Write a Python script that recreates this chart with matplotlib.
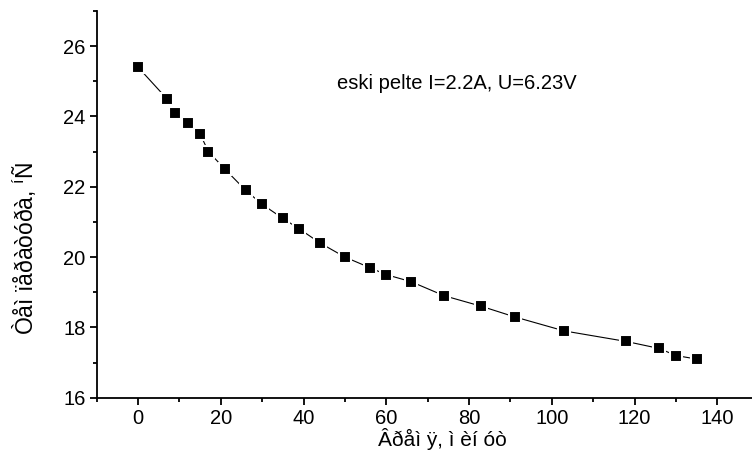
import matplotlib
matplotlib.use("Agg")
import matplotlib.pyplot as plt
from matplotlib.ticker import MultipleLocator

time_min = [0, 7, 9, 12, 15, 17, 21, 26, 30, 35, 39, 44, 50, 56, 60, 66,
            74, 83, 91, 103, 118, 126, 130, 135]
temperature = [25.4, 24.5, 24.1, 23.8, 23.5, 23.0, 22.5, 21.9, 21.5, 21.1,
               20.8, 20.4, 20.0, 19.7, 19.5, 19.3, 18.9, 18.6, 18.3, 17.9,
               17.6, 17.4, 17.2, 17.1]

x_label = "Âðåì ÿ, ì èí óò"
y_label = r"Òåì ïåðàòóðà, $^{\rm í}$Ñ"
note = "eski pelte I=2.2A, U=6.23V"

plt.rcParams['font.family'] = ['Liberation Sans', 'DejaVu Sans']
plt.rcParams['mathtext.fontset'] = 'custom'
plt.rcParams['mathtext.rm'] = 'Liberation Sans'

fig = plt.figure(figsize=(7.52, 4.5), dpi=100)
ax = fig.add_axes([0.1286, 0.1162, 0.8714, 0.8594])

ax.plot(time_min, temperature, color='black', linewidth=0.8, zorder=2)
ax.plot(time_min, temperature, linestyle='none', marker='s', markersize=8.5,
        markerfacecolor='black', markeredgecolor='white', markeredgewidth=1.5,
        zorder=3)

ax.set_xlim(-10, 148.4)
ax.set_ylim(16, 27)
ax.xaxis.set_major_locator(MultipleLocator(20))
ax.xaxis.set_minor_locator(MultipleLocator(10))
ax.yaxis.set_major_locator(MultipleLocator(2))
ax.yaxis.set_minor_locator(MultipleLocator(1))

for s in ['top', 'right']:
    ax.spines[s].set_visible(False)
for s in ['left', 'bottom']:
    ax.spines[s].set_linewidth(1.3)

ax.tick_params(which='major', direction='out', length=5, width=1.3,
               labelsize=14.5, pad=3)
ax.tick_params(which='minor', direction='out', length=3, width=1.3)

ax.set_xlabel(x_label, fontsize=15)
ax.set_ylabel(y_label, fontsize=16.5)
ax.xaxis.set_label_coords(0.528, -0.078)
ax.yaxis.set_label_coords(-0.088, 0.387)

ax.text(48, 24.94, note, fontsize=14.5, va='center', ha='left')

fig.savefig("out.png", dpi=100)
